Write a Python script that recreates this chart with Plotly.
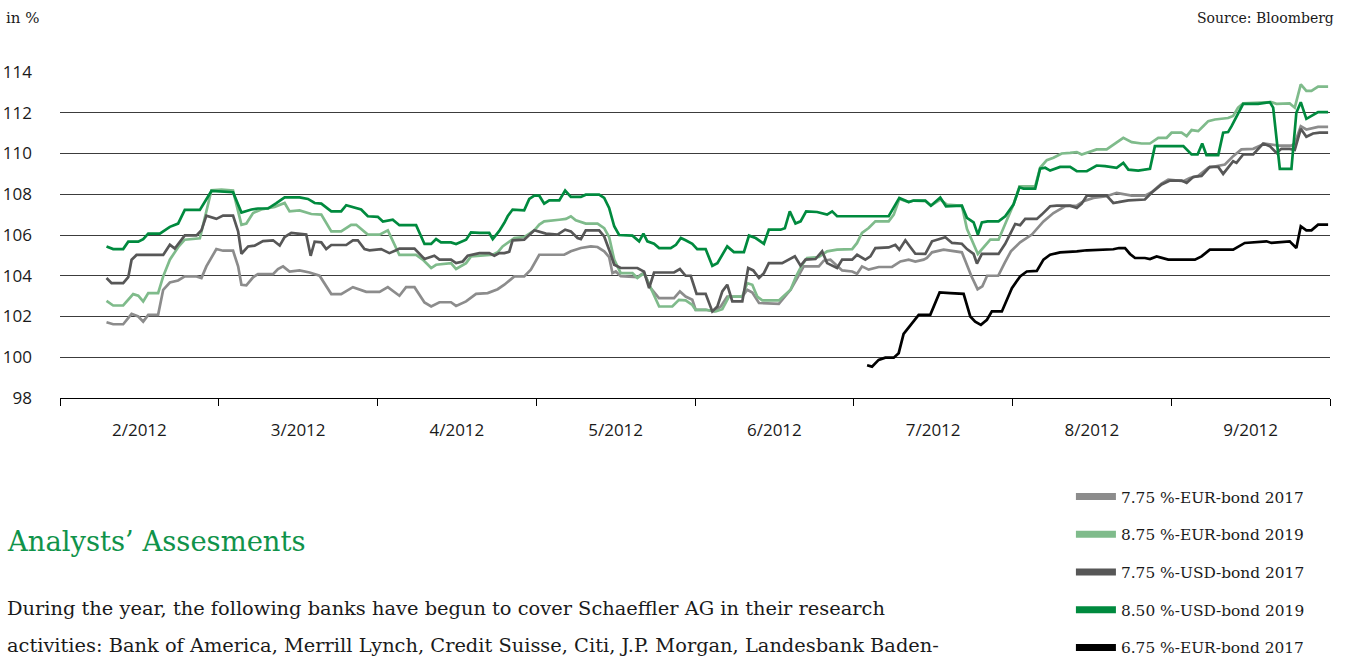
import plotly.graph_objects as go

# x values are months of 2012 (2.0 = start of February, 10.0 = end of September)
eur17_x = [2.293, 2.335, 2.398, 2.451, 2.493, 2.524, 2.556, 2.618, 2.650, 2.692, 2.744, 2.786, 2.860, 2.891,
           2.922, 2.985, 3.027, 3.090, 3.122, 3.143, 3.174, 3.216, 3.247, 3.342, 3.373, 3.405, 3.446,
           3.509, 3.572, 3.635, 3.709, 3.771, 3.845, 3.929, 4.013, 4.065, 4.138, 4.180, 4.233, 4.296,
           4.338, 4.390, 4.463, 4.495, 4.558, 4.621, 4.694, 4.757, 4.799, 4.862, 4.924, 4.966, 5.019,
           5.176, 5.218, 5.281, 5.344, 5.386, 5.428, 5.459, 5.480, 5.501, 5.532, 5.637, 5.679, 5.721,
           5.773, 5.868, 5.905, 5.941, 5.983, 6.004, 6.067, 6.120, 6.162, 6.203, 6.298, 6.329, 6.361,
           6.403, 6.528, 6.602, 6.644, 6.685, 6.780, 6.811, 6.853, 6.885, 6.927, 6.990, 7.021, 7.052,
           7.094, 7.157, 7.241, 7.294, 7.346, 7.388, 7.440, 7.461, 7.493, 7.566, 7.629, 7.681, 7.700,
           7.740, 7.780, 7.810, 7.840, 7.910, 7.950, 7.990, 8.048, 8.122, 8.195, 8.258, 8.331, 8.405,
           8.447, 8.510, 8.593, 8.656, 8.751, 8.834, 8.876, 8.939, 8.981, 9.076, 9.117, 9.170, 9.233,
           9.285, 9.338, 9.390, 9.442, 9.516, 9.589, 9.631, 9.673, 9.757, 9.778, 9.816, 9.851, 9.925, 9.988]
eur17_y = [101.72, 101.62, 101.62, 102.13, 102.0, 101.75, 102.08, 102.08, 103.31, 103.67, 103.77, 103.97, 103.97, 103.89,
           104.46, 105.31, 105.23, 105.23, 104.46, 103.56, 103.53, 103.92, 104.08, 104.08, 104.33, 104.46, 104.2,
           104.26, 104.16, 104.0, 103.1, 103.1, 103.44, 103.21, 103.21, 103.44, 103.02, 103.44, 103.44, 102.69,
           102.49, 102.7, 102.7, 102.52, 102.74, 103.11, 103.15, 103.34, 103.56, 103.97, 103.97, 104.3, 105.03,
           105.03, 105.2, 105.36, 105.44, 105.41, 105.2, 104.92, 104.13, 104.21, 103.98, 103.93, 104.16, 103.39,
           102.9, 102.9, 103.23, 102.98, 102.82, 102.33, 102.33, 102.25, 102.49, 102.98, 102.98, 103.31, 103.18,
           102.66, 102.62, 103.31, 103.89, 104.46, 104.46, 104.74, 104.79, 104.54, 104.26, 104.21, 104.1, 104.46,
           104.3, 104.43, 104.43, 104.7, 104.79, 104.7, 104.79, 104.87, 105.15, 105.28, 105.2, 105.15, 104.79,
           104.0, 103.34, 103.48, 104.0, 104.0, 104.62, 105.2, 105.64, 106.02, 106.67, 107.08, 107.41, 107.44,
           107.66, 107.82, 107.9, 108.07, 107.93, 107.93, 108.1, 108.52, 108.72, 108.64, 108.8, 108.9, 109.3,
           109.38, 109.46, 109.87, 110.2, 110.23, 110.49, 110.44, 110.39, 110.39, 110.49, 111.34, 111.18, 111.31, 111.31]

eur19_x = [2.293, 2.335, 2.398, 2.461, 2.493, 2.524, 2.556, 2.618, 2.650, 2.692, 2.744, 2.786, 2.881, 2.954,
           3.017, 3.090, 3.143, 3.174, 3.216, 3.268, 3.352, 3.415, 3.446, 3.509, 3.583, 3.646, 3.709,
           3.771, 3.834, 3.866, 3.939, 4.013, 4.065, 4.138, 4.243, 4.285, 4.338, 4.369, 4.463, 4.495,
           4.558, 4.589, 4.726, 4.757, 4.788, 4.830, 4.862, 4.924, 4.956, 4.988, 5.019, 5.050, 5.145,
           5.187, 5.218, 5.249, 5.312, 5.386, 5.428, 5.459, 5.491, 5.532, 5.606, 5.637, 5.679, 5.711,
           5.753, 5.774, 5.857, 5.899, 5.941, 5.983, 6.004, 6.067, 6.130, 6.172, 6.214, 6.298, 6.329,
           6.361, 6.392, 6.424, 6.528, 6.602, 6.637, 6.675, 6.706, 6.780, 6.832, 6.895, 6.990, 7.021,
           7.052, 7.094, 7.136, 7.220, 7.252, 7.287, 7.346, 7.377, 7.451, 7.486, 7.545, 7.587, 7.681,
           7.713, 7.782, 7.860, 7.912, 7.954, 8.006, 8.044, 8.143, 8.174, 8.216, 8.258, 8.310, 8.363,
           8.405, 8.436, 8.478, 8.530, 8.593, 8.635, 8.698, 8.751, 8.813, 8.866, 8.918, 8.971, 9.002,
           9.065, 9.097, 9.128, 9.170, 9.201, 9.233, 9.275, 9.358, 9.390, 9.421, 9.453, 9.547, 9.631,
           9.663, 9.746, 9.778, 9.816, 9.851, 9.883, 9.925, 9.988]
eur19_y = [102.77, 102.54, 102.54, 103.1, 103.02, 102.74, 103.15, 103.15, 103.97, 104.79, 105.4, 105.77, 105.84, 108.2,
           108.23, 108.18, 106.5, 106.56, 107.08, 107.25, 107.38, 107.57, 107.16, 107.21, 107.03, 107.0, 106.18,
           106.18, 106.5, 106.5, 106.02, 106.02, 106.23, 105.02, 105.02, 104.79, 104.38, 104.54, 104.62, 104.33,
           104.62, 104.95, 105.03, 105.15, 105.44, 105.67, 105.85, 105.9, 106.07, 106.23, 106.51, 106.67, 106.75,
           106.79, 106.92, 106.72, 106.56, 106.56, 106.34, 105.9, 104.79, 104.13, 104.13, 103.89, 104.13, 103.56,
           102.82, 102.49, 102.49, 102.82, 102.79, 102.57, 102.33, 102.33, 102.25, 102.36, 102.98, 102.98, 103.64,
           103.56, 102.98, 102.79, 102.79, 103.31, 103.97, 104.54, 104.87, 104.92, 105.2, 105.28, 105.31, 105.61,
           106.1, 106.34, 106.67, 106.67, 107.0, 107.77, 107.62, 107.69, 107.66, 107.44, 107.74, 107.49, 107.44,
           106.3, 105.07, 105.77, 105.77, 106.51, 107.49, 108.39, 108.39, 109.3, 109.67, 109.79, 110.0, 110.03,
           110.07, 109.95, 110.07, 110.2, 110.2, 110.44, 110.77, 110.56, 110.49, 110.49, 110.77, 110.77, 111.02,
           111.02, 110.85, 111.15, 111.1, 111.34, 111.59, 111.67, 111.74, 111.84, 112.25, 112.46, 112.49, 112.52,
           112.44, 112.46, 112.25, 113.39, 113.07, 113.07, 113.28, 113.28]

usd17_x = [2.293, 2.325, 2.398, 2.430, 2.451, 2.482, 2.650, 2.692, 2.723, 2.786, 2.860, 2.891, 2.922, 2.985,
           3.027, 3.090, 3.122, 3.143, 3.185, 3.226, 3.279, 3.342, 3.384, 3.415, 3.457, 3.509, 3.551,
           3.579, 3.604, 3.646, 3.677, 3.709, 3.803, 3.845, 3.876, 3.918, 3.950, 4.023, 4.075, 4.117,
           4.138, 4.233, 4.296, 4.358, 4.390, 4.463, 4.495, 4.537, 4.568, 4.642, 4.704, 4.736, 4.767,
           4.799, 4.830, 4.851, 4.924, 4.988, 5.061, 5.134, 5.182, 5.218, 5.260, 5.281, 5.312, 5.396,
           5.428, 5.459, 5.491, 5.532, 5.637, 5.679, 5.711, 5.742, 5.868, 5.905, 5.941, 5.973, 6.010,
           6.067, 6.109, 6.141, 6.172, 6.203, 6.235, 6.298, 6.335, 6.367, 6.403, 6.434, 6.465, 6.549,
           6.591, 6.629, 6.665, 6.696, 6.759, 6.801, 6.832, 6.895, 6.927, 6.990, 7.021, 7.073, 7.105,
           7.136, 7.220, 7.262, 7.287, 7.325, 7.356, 7.388, 7.451, 7.493, 7.577, 7.619, 7.681, 7.713,
           7.755, 7.776, 7.807, 7.912, 7.954, 7.985, 8.017, 8.048, 8.080, 8.153, 8.184, 8.237, 8.279,
           8.363, 8.405, 8.436, 8.468, 8.593, 8.635, 8.667, 8.730, 8.834, 8.876, 8.939, 8.992, 9.065,
           9.097, 9.138, 9.191, 9.243, 9.296, 9.327, 9.358, 9.390, 9.411, 9.453, 9.516, 9.579, 9.621,
           9.663, 9.694, 9.746, 9.778, 9.816, 9.851, 9.893, 9.935, 9.988]
usd17_y = [103.89, 103.64, 103.64, 103.93, 104.79, 105.02, 105.02, 105.52, 105.33, 105.98, 105.98, 106.23, 106.95, 106.79,
           106.95, 106.95, 106.18, 105.08, 105.44, 105.48, 105.7, 105.74, 105.48, 105.9, 106.1, 106.07, 106.02,
           104.98, 105.67, 105.64, 105.31, 105.51, 105.51, 105.74, 105.74, 105.31, 105.25, 105.31, 105.11, 105.25,
           105.33, 105.33, 104.82, 104.98, 104.79, 104.79, 104.62, 104.7, 104.98, 105.11, 105.11, 104.98, 105.11,
           105.11, 105.18, 105.74, 105.77, 106.23, 106.07, 106.02, 106.26, 106.18, 105.85, 105.8, 106.23, 106.23,
           105.93, 105.28, 104.54, 104.38, 104.38, 104.2, 103.39, 104.16, 104.16, 104.33, 104.0, 104.0, 103.11,
           103.11, 102.25, 102.49, 103.23, 103.56, 102.74, 102.74, 104.38, 104.26, 103.89, 104.13, 104.62, 104.62,
           104.79, 104.95, 104.49, 104.79, 104.82, 105.2, 104.62, 104.38, 104.79, 104.79, 105.03, 104.79, 104.95,
           105.36, 105.39, 105.52, 105.28, 105.74, 105.41, 105.08, 105.07, 105.69, 105.89, 105.61, 105.57, 105.31,
           105.07, 104.6, 105.07, 105.07, 105.57, 106.02, 106.54, 106.48, 106.79, 106.79, 107.0, 107.41, 107.44,
           107.44, 107.33, 107.54, 107.93, 107.93, 107.57, 107.61, 107.7, 107.74, 108.07, 108.48, 108.67, 108.67,
           108.56, 108.85, 108.9, 109.34, 109.34, 109.0, 109.3, 109.62, 109.54, 109.95, 109.95, 110.49, 110.36,
           110.03, 110.23, 110.23, 110.18, 111.21, 110.82, 110.98, 111.02, 111.02]

usd19_x = [2.293, 2.335, 2.398, 2.430, 2.493, 2.524, 2.556, 2.629, 2.692, 2.744, 2.786, 2.881, 2.954, 3.090,
           3.143, 3.206, 3.247, 3.310, 3.363, 3.415, 3.509, 3.562, 3.604, 3.646, 3.709, 3.771, 3.803,
           3.855, 3.897, 3.939, 4.002, 4.034, 4.096, 4.138, 4.243, 4.296, 4.338, 4.369, 4.400, 4.463,
           4.495, 4.558, 4.589, 4.642, 4.704, 4.726, 4.767, 4.799, 4.820, 4.851, 4.924, 4.956, 4.988,
           5.019, 5.050, 5.082, 5.145, 5.182, 5.218, 5.281, 5.312, 5.396, 5.428, 5.459, 5.491, 5.522,
           5.606, 5.648, 5.675, 5.700, 5.742, 5.774, 5.847, 5.880, 5.911, 5.941, 5.983, 6.014, 6.067,
           6.109, 6.141, 6.203, 6.245, 6.308, 6.340, 6.382, 6.434, 6.465, 6.539, 6.566, 6.597, 6.633,
           6.665, 6.700, 6.769, 6.832, 6.864, 6.895, 7.220, 7.287, 7.346, 7.377, 7.451, 7.486, 7.545,
           7.581, 7.681, 7.713, 7.755, 7.782, 7.807, 7.843, 7.912, 7.954, 8.006, 8.044, 8.069, 8.143,
           8.174, 8.206, 8.237, 8.300, 8.363, 8.405, 8.468, 8.530, 8.583, 8.656, 8.698, 8.730, 8.792,
           8.866, 8.897, 9.076, 9.128, 9.166, 9.195, 9.222, 9.296, 9.327, 9.358, 9.380, 9.453, 9.547,
           9.621, 9.642, 9.684, 9.757, 9.788, 9.816, 9.851, 9.925, 9.988]
usd19_y = [105.44, 105.31, 105.31, 105.67, 105.67, 105.8, 106.07, 106.07, 106.4, 106.56, 107.23, 107.23, 108.16, 108.1,
           107.1, 107.25, 107.3, 107.3, 107.57, 107.85, 107.85, 107.77, 107.57, 107.54, 107.16, 107.16, 107.46,
           107.36, 107.25, 106.92, 106.89, 106.66, 106.75, 106.48, 106.48, 105.56, 105.56, 105.8, 105.64, 105.64,
           105.56, 105.77, 106.13, 106.1, 106.1, 105.8, 106.2, 106.6, 106.92, 107.25, 107.21, 107.77, 107.93,
           107.93, 107.54, 107.7, 107.7, 108.18, 107.87, 107.87, 107.98, 107.98, 107.82, 107.33, 106.43, 106.0,
           105.97, 105.69, 106.07, 105.69, 105.57, 105.36, 105.36, 105.52, 105.85, 105.74, 105.57, 105.31, 105.31,
           104.49, 104.62, 105.44, 105.16, 105.16, 105.97, 105.85, 105.57, 106.26, 106.26, 106.33, 107.16, 106.56,
           106.67, 107.16, 107.13, 107.0, 107.16, 106.92, 106.92, 107.82, 107.62, 107.69, 107.69, 107.44, 107.84,
           107.41, 107.44, 106.84, 106.62, 106.02, 106.62, 106.67, 106.67, 106.92, 107.49, 108.34, 108.28, 108.28,
           109.25, 109.3, 109.16, 109.34, 109.34, 109.13, 109.13, 109.41, 109.38, 109.3, 109.54, 109.21, 109.16,
           109.25, 110.36, 110.36, 109.95, 109.95, 110.49, 109.92, 109.92, 111.02, 111.05, 111.34, 112.44, 112.44,
           112.52, 112.25, 109.25, 109.25, 112.0, 112.52, 111.7, 112.03, 112.03]

eur17b_x = [7.084, 7.115, 7.157, 7.199, 7.252, 7.283, 7.314, 7.346, 7.409, 7.482, 7.541, 7.608, 7.692, 7.734,
            7.765, 7.801, 7.839, 7.870, 7.933, 7.996, 8.048, 8.090, 8.153, 8.195, 8.237, 8.300, 8.352,
            8.405, 8.468, 8.551, 8.635, 8.671, 8.709, 8.740, 8.772, 8.834, 8.866, 8.908, 8.950, 8.981,
            9.149, 9.191, 9.243, 9.390, 9.463, 9.547, 9.600, 9.631, 9.673, 9.746, 9.788, 9.816, 9.851,
            9.883, 9.925, 9.988]
eur17b_y = [99.61, 99.54, 99.87, 99.98, 99.98, 100.2, 101.15, 101.48, 102.08, 102.08, 103.18, 103.15, 103.11, 102.0,
            101.75, 101.59, 101.84, 102.25, 102.25, 103.39, 103.97, 104.21, 104.24, 104.79, 105.03, 105.15, 105.16,
            105.2, 105.25, 105.28, 105.3, 105.36, 105.36, 105.07, 104.87, 104.87, 104.82, 104.95, 104.87, 104.79,
            104.79, 104.95, 105.28, 105.28, 105.61, 105.66, 105.69, 105.61, 105.64, 105.69, 105.36, 106.43, 106.23,
            106.23, 106.51, 106.51]

month_pos = [2.5, 3.5, 4.5, 5.5, 6.5, 7.5, 8.5, 9.5]
month_labels = ["2/2012", "3/2012", "4/2012", "5/2012", "6/2012", "7/2012", "8/2012", "9/2012"]
month_edges = [2, 3, 4, 5, 6, 7, 8, 9, 10]

series = [
    ("7.75 %-EUR-bond 2017", eur17_x, eur17_y, "#8c8c8c"),
    ("8.75 %-EUR-bond 2019", eur19_x, eur19_y, "#7fbb8b"),
    ("7.75 %-USD-bond 2017", usd17_x, usd17_y, "#575757"),
    ("8.50 %-USD-bond 2019", usd19_x, usd19_y, "#008a3e"),
    ("6.75 %-EUR-bond 2017", eur17b_x, eur17b_y, "#000000"),
]

serif = "DejaVu Serif"
sans = "Open Sans"

fig = go.Figure()
for name, xs, ys, col in series:
    fig.add_trace(go.Scatter(x=xs, y=ys, mode="lines", name=name, showlegend=False,
                             line=dict(color=col, width=2.7)))
# thick swatches for the legend
for i, (name, xs, ys, col) in enumerate(series):
    fig.add_trace(go.Scatter(x=[None], y=[None], mode="lines", name=name, legendgroup=str(i),
                             line=dict(color=col, width=7)))

fig.update_layout(
    width=1349, height=656,
    margin=dict(l=60, r=19, t=72, b=258, autoexpand=False),
    plot_bgcolor="white", paper_bgcolor="white",
    font=dict(family=serif, size=15, color="#1a1a1a"),
    legend=dict(x=0.796, xanchor="left", y=0.2683, yanchor="top", yref="container",
                traceorder="grouped", tracegroupgap=14.7,
                font=dict(family=serif, size=15.4, color="#1a1a1a"),
                itemwidth=40, bgcolor="rgba(0,0,0,0)"),
    xaxis=dict(range=[2, 10], tickvals=month_pos, ticktext=month_labels, ticks="",
               showgrid=False, showline=True, linecolor="black", linewidth=1,
               tickfont=dict(family=sans, size=17, color="#1a1a1a"), ticklabelstandoff=17,
               minor=dict(tickvals=month_edges, ticks="outside", ticklen=7, tickcolor="black",
                          showgrid=False),
               zeroline=False, fixedrange=True),
    yaxis=dict(range=[98, 114], tickvals=list(range(98, 115, 2)), ticks="",
               showgrid=True, gridcolor="#3c3c3c", gridwidth=1, zeroline=False,
               tickfont=dict(family=sans, size=17, color="#1a1a1a"), ticklabelstandoff=27),
)

fig.add_annotation(text="in %", xref="paper", yref="paper", x=-0.044, y=1.166,
                   xanchor="left", yanchor="middle", showarrow=False,
                   font=dict(family=serif, size=15, color="#1a1a1a"))
fig.add_annotation(text="Source: Bloomberg", xref="paper", yref="paper", x=1.0045, y=1.166,
                   xanchor="right", yanchor="middle", showarrow=False,
                   font=dict(family=serif, size=14, color="#1a1a1a"))
fig.add_annotation(text="Analysts’ Assesments", xref="paper", yref="paper", x=-0.0435, y=-0.4387,
                   xanchor="left", yanchor="middle", showarrow=False,
                   font=dict(family=serif, size=27.4, color="#10934a"))
fig.add_annotation(text="During the year, the following banks have begun to cover Schaeffler AG in their research",
                   xref="paper", yref="paper", x=-0.0435, y=-0.6472,
                   xanchor="left", yanchor="middle", showarrow=False,
                   font=dict(family=serif, size=19.4, color="#1a1a1a"))
fig.add_annotation(text="activities: Bank of America, Merrill Lynch, Credit Suisse, Citi, J.P. Morgan, Landesbank Baden-",
                   xref="paper", yref="paper", x=-0.0435, y=-0.7577,
                   xanchor="left", yanchor="middle", showarrow=False,
                   font=dict(family=serif, size=19.4, color="#1a1a1a"))

# drop the browser's default page margin so the figure sits at the window origin
fig.write_html("out.html", config={"displayModeBar": False},
               post_script="document.body.style.margin='0';")
